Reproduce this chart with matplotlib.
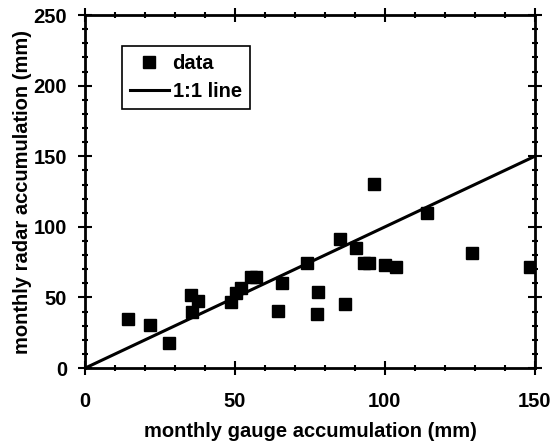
import matplotlib
matplotlib.use("Agg")
import matplotlib.pyplot as plt
from matplotlib.ticker import MultipleLocator

# monthly gauge vs radar accumulation (mm)
gauge = [14.3, 21.7, 28.1, 35.2, 37.6, 35.5, 48.8, 50.2, 52.1, 55.4, 56.9,
         65.8, 64.4, 74.1, 77.7, 77.5, 85.0, 86.6, 90.4, 92.9, 94.7, 96.4,
         100.0, 103.7, 113.9, 129.0, 148.3]
radar = [34.7, 30.5, 17.7, 51.7, 47.7, 39.4, 47.0, 52.9, 56.4, 64.7, 64.7,
         60.0, 40.4, 74.6, 54.0, 38.2, 91.4, 45.3, 84.8, 74.2, 74.2, 130.1,
         72.9, 71.7, 109.6, 81.2, 71.7]
one_to_one = [0, 150]

plt.rcParams["font.family"] = ["Liberation Sans", "DejaVu Sans"]
plt.rcParams["font.weight"] = "bold"
FS = 14.5

fig = plt.figure(figsize=(5.53, 4.44), dpi=100)
ax = fig.add_axes([0.154, 0.171, 0.813, 0.795])

ax.plot(gauge, radar, "s", color="black", ms=8.5, label="data")
ax.plot(one_to_one, one_to_one, "-", color="black", lw=2.2, label="1:1 line")

ax.set_xlim(0, 150)
ax.set_ylim(0, 250)
ax.xaxis.set_major_locator(MultipleLocator(50))
ax.xaxis.set_minor_locator(MultipleLocator(10))
ax.yaxis.set_major_locator(MultipleLocator(50))
ax.yaxis.set_minor_locator(MultipleLocator(10))
ax.tick_params(which="both", direction="inout", top=True, right=True,
               labelsize=FS, width=1.5)
ax.tick_params(which="major", length=10)
ax.tick_params(which="minor", length=5)
ax.tick_params(axis="x", pad=12)
ax.tick_params(axis="y", pad=8)
for s in ax.spines.values():
    s.set_linewidth(2)
for lab in ax.get_xticklabels() + ax.get_yticklabels():
    lab.set_fontweight("bold")

ax.set_xlabel("monthly gauge accumulation (mm)", fontsize=FS,
              fontweight="bold", labelpad=8)
ax.set_ylabel("monthly radar accumulation (mm)", fontsize=FS,
              fontweight="bold", labelpad=1)

leg = ax.legend(loc="upper left", bbox_to_anchor=(0.221, 0.896),
                bbox_transform=fig.transFigure, fancybox=False,
                edgecolor="black", framealpha=1, fontsize=FS,
                handlelength=1.9, borderpad=0.4, handletextpad=0.2,
                labelspacing=0.45, borderaxespad=0)
leg.get_frame().set_linewidth(1.2)

fig.savefig("out.png", dpi=100)
